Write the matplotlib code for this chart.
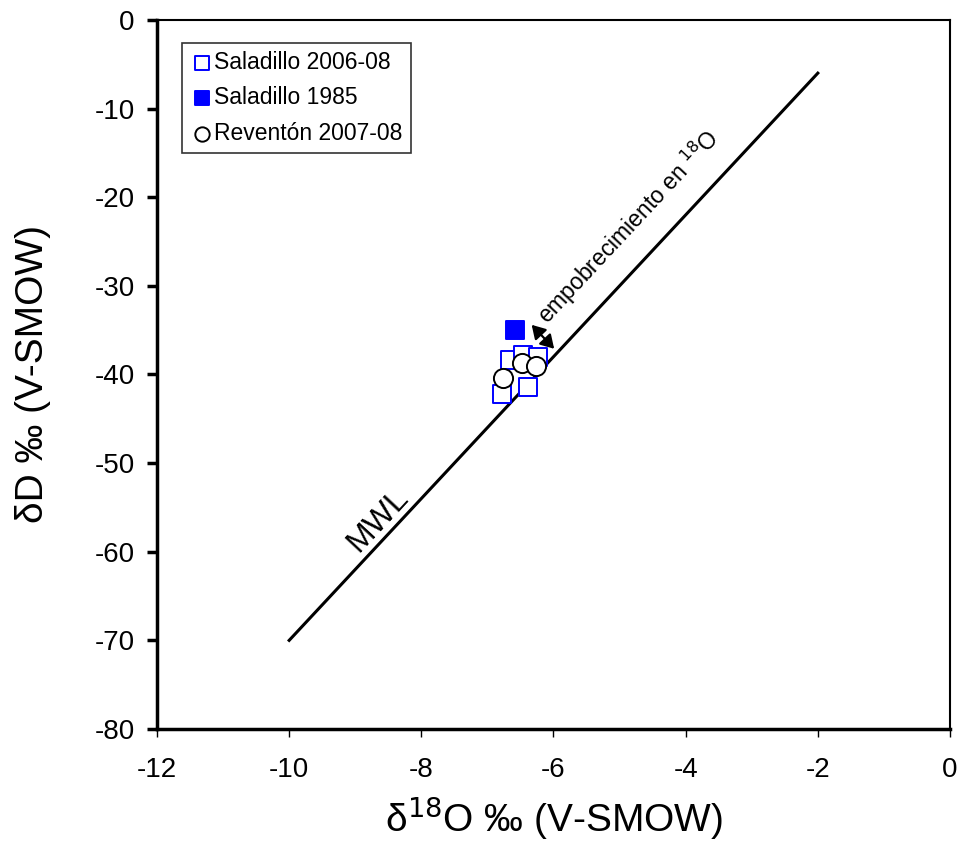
import matplotlib
matplotlib.use("Agg")
import matplotlib.pyplot as plt
from matplotlib import font_manager
from matplotlib.patches import FancyArrowPatch

# keep the regular Liberation Sans, not the Narrow cut
font_manager.fontManager.ttflist = [f for f in font_manager.fontManager.ttflist
                                    if 'Narrow' not in f.fname]
plt.rcParams['font.family'] = ['Liberation Sans', 'DejaVu Sans']
plt.rcParams['axes.unicode_minus'] = False

# MWL end points
mwl_x = [-10, -2]
mwl_y = [-70, -6]

# Saladillo 2006-08
sal06_x = [-6.66, -6.46, -6.23, -6.78, -6.39]
sal06_y = [-38.4, -37.8, -38.0, -42.2, -41.4]

# Saladillo 1985
sal85_x = [-6.58]
sal85_y = [-35.0]

# Reventon 2007-08
rev_x = [-6.48, -6.26, -6.76]
rev_y = [-38.7, -39.0, -40.4]

fig = plt.figure(figsize=(9.59, 8.46), dpi=100)
ax = fig.add_axes([0.1637, 0.1383, 0.8269, 0.8381])

ax.plot(mwl_x, mwl_y, color='black', lw=2.2)
ax.scatter(sal06_x, sal06_y, marker='s', s=170, facecolors='white',
           edgecolors='blue', linewidths=1.4, label='Saladillo 2006-08', zorder=3)
ax.scatter(sal85_x, sal85_y, marker='s', s=170, facecolors='blue',
           edgecolors='blue', linewidths=1.4, label='Saladillo 1985', zorder=3)
ax.scatter(rev_x, rev_y, marker='o', s=190, facecolors='white',
           edgecolors='black', linewidths=1.4, label='Reventón 2007-08', zorder=4)

arr = FancyArrowPatch((-6.33, -34.4), (-5.99, -37.1),
                      arrowstyle='<|-|>,head_length=0.5,head_width=0.3',
                      mutation_scale=16, color='black', lw=1.6,
                      shrinkA=0, shrinkB=0, zorder=5)
ax.add_patch(arr)
ax.text(-4.86, -23.4, 'empobrecimiento en $^{18}$O', rotation=47,
        ha='center', va='center', fontsize=16.5, rotation_mode='anchor')
ax.text(-8.66, -56.4, 'MWL', rotation=47, ha='center', va='center',
        fontsize=23, rotation_mode='anchor')

ax.set_xlim(-12, 0)
ax.set_ylim(-80, 0)
ax.set_xticks(range(-12, 1, 2))
ax.set_yticks(range(-80, 1, 10))
ax.tick_params(direction='out', labelsize=20)
ax.tick_params(axis='y', length=7, width=2.5, pad=9)
ax.tick_params(axis='x', length=6, width=1, pad=14)
ax.spines['left'].set_linewidth(2.5)
ax.spines['bottom'].set_linewidth(2.5)
ax.spines['top'].set_linewidth(1.5)
ax.spines['right'].set_linewidth(1.5)

ax.set_xlabel('δ$^{18}$O ‰ (V-SMOW)', fontsize=28, labelpad=8)
ax.set_ylabel('δD ‰ (V-SMOW)', fontsize=28, labelpad=31)

leg = ax.legend(loc='upper left', bbox_to_anchor=(0.032, 0.968), fontsize=16.5,
                frameon=True, fancybox=False, edgecolor='black',
                handletextpad=0.05, handlelength=1.0, borderpad=0.35,
                labelspacing=0.55, markerscale=0.75, borderaxespad=0)
leg.get_frame().set_linewidth(1.2)

fig.savefig('out.png', dpi=100)
